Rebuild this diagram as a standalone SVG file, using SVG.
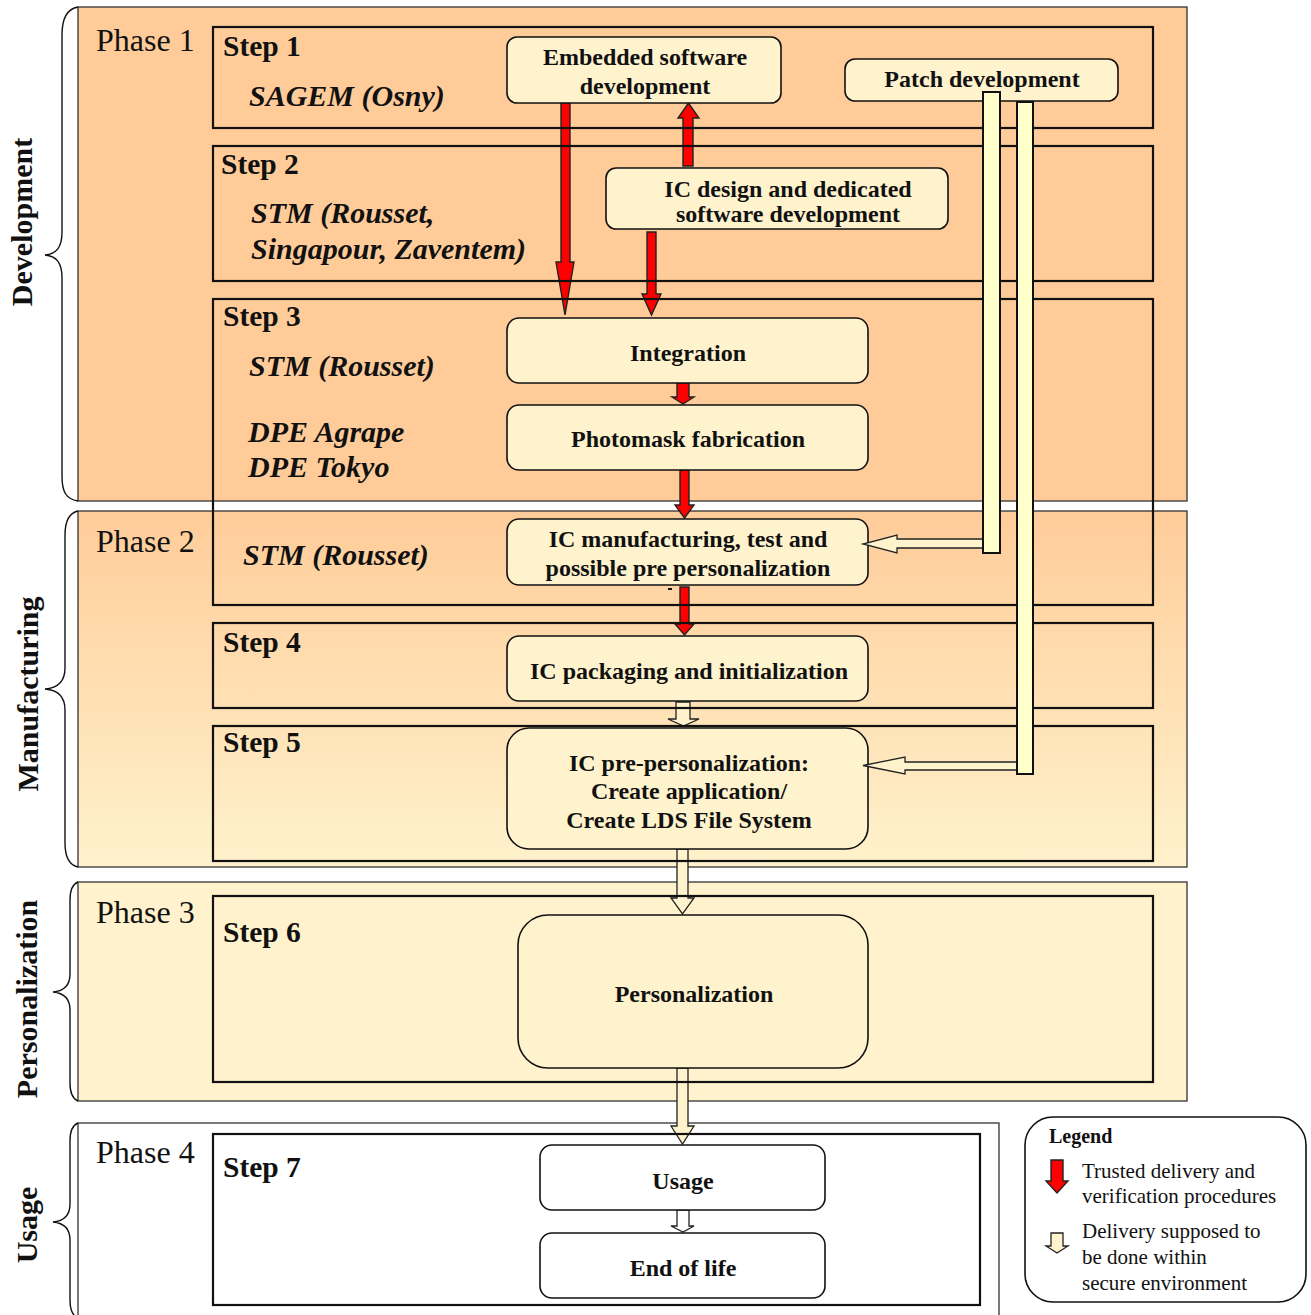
<svg xmlns="http://www.w3.org/2000/svg" width="1311" height="1315" viewBox="0 0 1311 1315">
<defs>
<linearGradient id="g2" x1="0" y1="0" x2="0" y2="1">
<stop offset="0" stop-color="#FFCC99"/>
<stop offset="1" stop-color="#FFF2CC"/>
</linearGradient>
<style>
.phase{stroke:#333;stroke-width:1.3}
.step{fill:none;stroke:#111;stroke-width:2.2}
.node{fill:#FFF3CD;stroke:#111;stroke-width:1.6}
.brace{fill:none;stroke:#111;stroke-width:1.4}
.red{fill:#FF0000;stroke:#222;stroke-width:1.4}
.hol{fill:#FFF3CD;stroke:#222;stroke-width:1.3}
.bar{fill:#FFFFCC;stroke:#111;stroke-width:2}
.ph{font-family:"Liberation Serif",serif;font-size:32px;fill:#111}
.st{font-family:"Liberation Serif",serif;font-size:29.5px;font-weight:bold;fill:#111}
.org{font-family:"Liberation Serif",serif;font-size:30px;font-weight:bold;font-style:italic;fill:#111}
.nt{font-family:"Liberation Serif",serif;font-size:24px;font-weight:bold;fill:#111;text-anchor:middle}
.vl{font-family:"Liberation Serif",serif;font-size:30px;font-weight:bold;fill:#111;text-anchor:middle}
.lg{font-family:"Liberation Serif",serif;font-size:21px;fill:#111}
</style>
</defs>
<rect width="1311" height="1315" fill="#fff"/>

<g id="phases">
<rect class="phase" x="78" y="7" width="1109" height="494" fill="#FFCC99"/>
<rect class="phase" x="78" y="511" width="1109" height="356" fill="url(#g2)"/>
<rect class="phase" x="78" y="882" width="1109" height="219" fill="#FFF2CC"/>
<rect class="phase" x="78" y="1123" width="921" height="200" fill="#fff"/>
<text class="ph" x="96" y="51">Phase 1</text>
<text class="ph" x="96" y="552">Phase 2</text>
<text class="ph" x="96" y="923">Phase 3</text>
<text class="ph" x="96" y="1163">Phase 4</text>
</g>

<g id="braces">
<path class="brace" d="M78,7 C66,9 62,20 62,35 L62,232 C62,248 56,254 45,255 C56,256 62,262 62,278 L62,476 C62,492 66,499 78,501"/>
<path class="brace" d="M78,511 C69,513 65,522 65,535 L65,668 C65,682 58,688 45,689 C58,690 65,696 65,710 L65,843 C65,857 69,865 78,867"/>
<path class="brace" d="M78,882 C73,884 70,890 70,900 L70,974 C70,986 64,991 53,992 C64,993 70,998 70,1010 L70,1083 C70,1093 73,1099 78,1101"/>
<path class="brace" d="M78,1123 C73,1125 70,1131 70,1141 L70,1204 C70,1216 64,1221 53,1222 C64,1223 70,1228 70,1240 L70,1300 C70,1310 73,1316 78,1318"/>
<text class="vl" transform="translate(32,222) rotate(-90)">Development</text>
<text class="vl" transform="translate(38,694) rotate(-90)">Manufacturing</text>
<text class="vl" transform="translate(37,999) rotate(-90)">Personalization</text>
<text class="vl" transform="translate(37,1225) rotate(-90)">Usage</text>
</g>

<g id="connectors">
<polygon class="red" points="561,103 570,103 570,262 574,262 565,315 556,262 561,262"/>
<polygon class="red" points="683,166 683,118 678,118 688.5,103 699,118 693,118 693,166"/>
<polygon class="red" points="647,232 656,232 656,294 661,294 651.5,315 642,294 647,294"/>
<polygon class="red" points="677,383 689,383 689,397 694,397 683,404 672,397 677,397"/>
<polygon class="red" points="680,470 689,470 689,505 694,505 684.5,518 675,505 680,505"/>
<polygon class="red" points="680,587 689,587 689,624 694,624 684.5,635 675,624 680,624"/>
<polygon class="hol" points="676,702 690,702 690,719 699,719 683.5,726 668,719 676,719"/>
<polygon class="hol" points="677,849 688,849 688,898 694,898 682.5,914 671,898 677,898"/>
<polygon class="hol" points="677,1068 688,1068 688,1126 694,1126 682.5,1144 671,1126 677,1126"/>
<polygon class="hol" style="fill:#fff" points="677,1210 689,1210 689,1226 694,1226 683,1232 671,1226 677,1226"/>
</g>

<g id="steps">
<rect class="step" x="213" y="27" width="940" height="101"/>
<rect class="step" x="213" y="146" width="940" height="135"/>
<rect class="step" x="213" y="299" width="940" height="306"/>
<rect class="step" x="213" y="623" width="940" height="85"/>
<rect class="step" x="213" y="726" width="940" height="135"/>
<rect class="step" x="213" y="896" width="940" height="186"/>
<rect class="step" x="213" y="1134" width="767" height="171"/>
<text class="st" x="223" y="56">Step 1</text>
<text class="st" x="221" y="174">Step 2</text>
<text class="st" x="223" y="326">Step 3</text>
<text class="st" x="223" y="652">Step 4</text>
<text class="st" x="223" y="752">Step 5</text>
<text class="st" x="223" y="942">Step 6</text>
<text class="st" x="223" y="1177">Step 7</text>
<text class="org" x="249" y="106">SAGEM (Osny)</text>
<text class="org" x="251" y="223">STM (Rousset,</text>
<text class="org" x="251" y="259">Singapour, Zaventem)</text>
<text class="org" x="249" y="376">STM (Rousset)</text>
<text class="org" x="248" y="442">DPE Agrape</text>
<text class="org" x="248" y="477">DPE Tokyo</text>
<text class="org" x="243" y="565">STM (Rousset)</text>
</g>

<g id="n-embedded">
<rect class="node" x="507" y="37" width="274" height="66" rx="10"/>
<text class="nt" x="645" y="65">Embedded software</text>
<text class="nt" x="645" y="94">development</text>
</g>
<g id="n-patch">
<rect class="node" x="845" y="59" width="273" height="42" rx="10"/>
<text class="nt" x="982" y="87">Patch development</text>
</g>
<g id="n-icdesign">
<rect class="node" x="606" y="168" width="342" height="61" rx="10"/>
<text class="nt" x="788" y="197">IC design and dedicated</text>
<text class="nt" x="788" y="222">software development</text>
</g>
<g id="n-integration">
<rect class="node" x="507" y="318" width="361" height="65" rx="12"/>
<text class="nt" x="688" y="361">Integration</text>
</g>
<g id="n-photomask">
<rect class="node" x="507" y="405" width="361" height="65" rx="12"/>
<text class="nt" x="688" y="447">Photomask fabrication</text>
</g>
<g id="n-icmanuf">
<rect class="node" x="507" y="519" width="361" height="66" rx="12"/>
<text class="nt" x="688" y="547">IC manufacturing, test and</text>
<text class="nt" x="688" y="576">possible pre personalization</text>
</g>
<rect x="668" y="588" width="4" height="2" fill="#111"/>
<g id="n-icpack">
<rect class="node" x="507" y="636" width="361" height="65" rx="12"/>
<text class="nt" x="689" y="679">IC packaging and initialization</text>
</g>
<g id="n-icprepers">
<rect class="node" x="507" y="728" width="361" height="121" rx="22"/>
<text class="nt" x="689" y="771">IC pre-personalization:</text>
<text class="nt" x="689" y="799">Create application/</text>
<text class="nt" x="689" y="828">Create LDS File System</text>
</g>
<g id="n-personalization">
<rect class="node" x="518" y="915" width="350" height="153" rx="30"/>
<text class="nt" x="694" y="1002">Personalization</text>
</g>
<g id="n-usage">
<rect class="node" x="540" y="1145" width="285" height="65" rx="12" style="fill:#fff"/>
<text class="nt" x="683" y="1189">Usage</text>
</g>
<g id="n-endoflife">
<rect class="node" x="540" y="1233" width="285" height="65" rx="12" style="fill:#fff"/>
<text class="nt" x="683" y="1276">End of life</text>
</g>

<g id="patch-bars">
<polygon class="hol" points="983,539 897,539 897,535 863,544 897,553 897,548 983,548"/>
<polygon class="hol" points="1017,762 905,762 905,757 863,765.5 905,774 905,770 1017,770"/>
<rect class="bar" x="983" y="92" width="17" height="461"/>
<rect class="bar" x="1017" y="102" width="16" height="672"/>
</g>

<g id="legend">
<rect x="1025" y="1117" width="281" height="185" rx="28" fill="#fff" stroke="#111" stroke-width="1.6"/>
<text class="lg" x="1049" y="1143" style="font-weight:bold;font-size:20px">Legend</text>
<polygon class="red" points="1051,1160 1063,1160 1063,1181 1068,1181 1057,1193 1046,1181 1051,1181"/>
<polygon class="hol" points="1051,1233 1063,1233 1063,1246 1068,1246 1057,1253 1046,1246 1051,1246"/>
<text class="lg" x="1082" y="1178">Trusted delivery and</text>
<text class="lg" x="1082" y="1203">verification procedures</text>
<text class="lg" x="1082" y="1238">Delivery supposed to</text>
<text class="lg" x="1082" y="1264">be done within</text>
<text class="lg" x="1082" y="1290">secure environment</text>
</g>
</svg>
